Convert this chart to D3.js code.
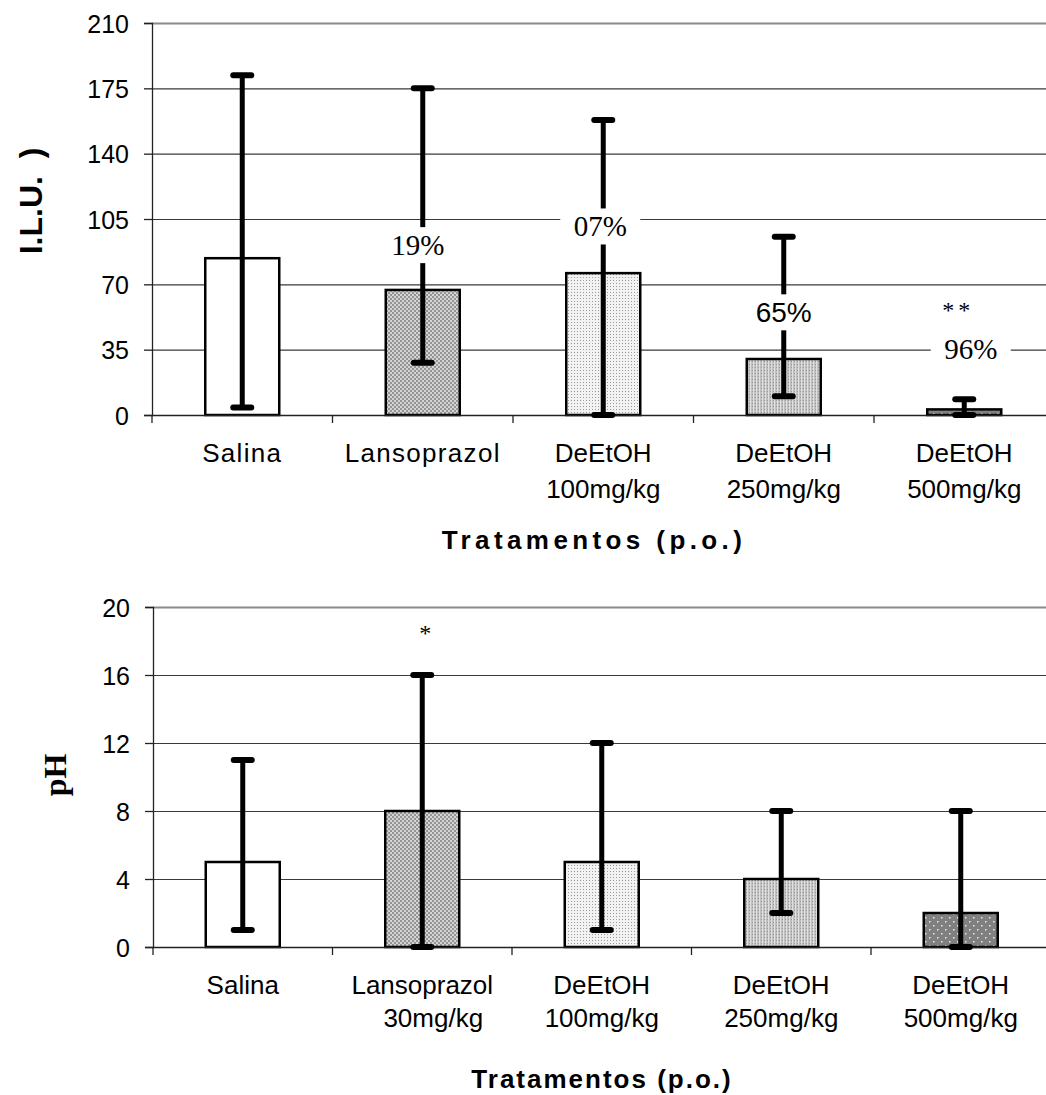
<!DOCTYPE html>
<html><head><meta charset="utf-8">
<script src="https://cdn.jsdelivr.net/npm/d3@7"></script>
<style>
html,body{margin:0;padding:0;background:#fff;overflow:hidden}
svg{display:block}
</style></head>
<body>
<svg id="chart" width="1046" height="1095"></svg>
<script>
// ---------- data ----------
const catsTop = [["Salina"],["Lansoprazol"],["DeEtOH","100mg/kg"],["DeEtOH","250mg/kg"],["DeEtOH","500mg/kg"]];
const catsBottom = [["Salina"],["Lansoprazol","30mg/kg"],["DeEtOH","100mg/kg"],["DeEtOH","250mg/kg"],["DeEtOH","500mg/kg"]];
const iluMean = [84, 67, 76, 30, 3];
const iluLow  = [4, 28, 0, 10, 0];
const iluHigh = [182, 175, 158, 95.5, 8.4];
const iluTicks = [0, 35, 70, 105, 140, 175, 210];
const iluNotes = ["", "19%", "07%", "65%", "96%"];
const iluStars = ["", "", "", "", "**"];
const phMean = [5, 8, 5, 4, 2];
const phLow  = [1, 0, 1, 2, 0];
const phHigh = [11, 16, 12, 8, 8];
const phTicks = [0, 4, 8, 12, 16, 20];
const phStars = ["", "*", "", "", ""];
const fills = ["#ffffff", "url(#pLanso)", "url(#p100)", "url(#p250)", "url(#p500)"];

const svg = d3.select("#chart");
const defs = svg.append("defs");
// patterns
(function(){
  let p = defs.append("pattern").attr("id","pLanso").attr("width",4).attr("height",4).attr("patternUnits","userSpaceOnUse");
  p.append("rect").attr("width",4).attr("height",4).attr("fill","#d4d4d4");
  p.append("rect").attr("x",0).attr("y",0).attr("width",2).attr("height",2).attr("fill","#949494");
  p.append("rect").attr("x",2).attr("y",2).attr("width",2).attr("height",2).attr("fill","#949494");
  p = defs.append("pattern").attr("id","p100").attr("width",3).attr("height",3).attr("patternUnits","userSpaceOnUse");
  p.append("rect").attr("width",3).attr("height",3).attr("fill","#f2f2f2");
  p.append("rect").attr("x",1).attr("y",1).attr("width",1).attr("height",1).attr("fill","#9a9a9a");
  p = defs.append("pattern").attr("id","p250").attr("width",3).attr("height",3).attr("patternUnits","userSpaceOnUse");
  p.append("rect").attr("width",3).attr("height",3).attr("fill","#c0c0c0");
  p.append("rect").attr("x",0).attr("y",0).attr("width",1).attr("height",3).attr("fill","#e0e0e0");
  p.append("rect").attr("x",2).attr("y",1).attr("width",1).attr("height",1).attr("fill","#959595");
  p = defs.append("pattern").attr("id","p500").attr("width",8).attr("height",8).attr("patternUnits","userSpaceOnUse");
  p.append("rect").attr("width",8).attr("height",8).attr("fill","#808080");
  p.append("rect").attr("x",1).attr("y",1).attr("width",1.5).attr("height",1.5).attr("fill","#e8e8e8");
  p.append("rect").attr("x",5).attr("y",5).attr("width",1.5).attr("height",1.5).attr("fill","#e8e8e8");
})();

const SANS = "Arial, 'Liberation Sans', sans-serif";
const SERIF = "'Times New Roman', 'Liberation Serif', serif";

function panel(o){
  const g = svg.append("g");
  const x = d3.scaleBand().domain(d3.range(5)).range([o.x0, o.x0 + 5*o.step]).paddingInner(0).paddingOuter(0);
  const y = d3.scaleLinear().domain([0, o.ticks[o.ticks.length-1]]).range([o.yb, o.yt]);
  // gridlines
  g.selectAll(".grid").data(o.ticks.slice(1)).join("line")
    .attr("x1", o.x0).attr("x2", 1046)
    .attr("y1", d=>y(d)+0.5).attr("y2", d=>y(d)+0.5)
    .attr("stroke", (d,i,n)=> i===n.length-1 ? "#8a8a8a" : "#3a3a3a")
    .attr("stroke-width", (d,i,n)=> i===n.length-1 ? 2 : 1.2);
  // y axis
  const ya = g.append("g").attr("transform",`translate(${o.x0},0)`)
    .call(d3.axisLeft(y).tickValues(o.ticks).tickSize(8).tickPadding(15).tickFormat(d3.format("d")));
  ya.select(".domain").attr("stroke","#222").attr("stroke-width",1.3);
  ya.selectAll(".tick line").attr("stroke","#222").attr("stroke-width",1.3);
  ya.selectAll("text").attr("font-family",SANS).attr("font-size",25).attr("fill","#000").attr("dy","0.36em");
  // bars
  const bw = 74;
  const cx = i => x(i) + x.bandwidth()/2;
  g.selectAll(".bar").data(o.mean).join("rect")
    .attr("x",(d,i)=>cx(i)-bw/2).attr("width",bw)
    .attr("y",d=>y(d)).attr("height",d=>y(0)-y(d))
    .attr("fill",(d,i)=>fills[i]).attr("stroke","#000").attr("stroke-width",2.5);
  // x axis
  const xa = g.append("g").attr("transform",`translate(0,${o.yb})`);
  xa.append("line").attr("x1",o.x0).attr("x2",1046).attr("y1",0.5).attr("y2",0.5).attr("stroke","#222").attr("stroke-width",1.5);
  xa.selectAll(".xt").data(d3.range(5)).join("line")
    .attr("x1",i=>x(i)).attr("x2",i=>x(i)).attr("y1",0).attr("y2",8).attr("stroke","#222").attr("stroke-width",1.3);
  // error bars
  const eb = g.append("g").attr("stroke","#000").attr("stroke-linecap","round");
  o.mean.forEach((m,i)=>{
    const c = cx(i);
    eb.append("line").attr("x1",c).attr("x2",c).attr("y1",y(o.low[i])).attr("y2",y(o.high[i])).attr("stroke-width",5).attr("stroke-linecap","butt");
    eb.append("line").attr("x1",c-9).attr("x2",c+9).attr("y1",y(o.high[i])).attr("y2",y(o.high[i])).attr("stroke-width",6);
    eb.append("line").attr("x1",c-9).attr("x2",c+9).attr("y1",y(o.low[i])).attr("y2",y(o.low[i])).attr("stroke-width",6);
  });
  // category labels
  const lab = g.append("g").attr("font-family",SANS).attr("fill","#000").attr("text-anchor","middle");
  o.cats.forEach((c,i)=>{
    c.forEach((t,j)=>{
      const t2 = lab.append("text").attr("x",cx(i) + (o.cats===catsBottom && i===1 && j===1 ? 11 : 0))
        .attr("y", o.lab1 + j*o.labGap).attr("font-size", 26).text(t);
      if (o.spaced) t2.attr("letter-spacing", c.length===1 ? 1.3 : 0);
    });
  });
  // axis title
  g.append("text").attr("x",o.titleX).attr("y",o.titleY).attr("text-anchor","middle")
    .attr("font-family",SANS).attr("font-weight","bold").attr("font-size",26)
    .attr("letter-spacing",o.titleSpacing).text("Tratamentos (p.o.)");
  return {g,x,y,cx};
}

// ---------- top panel ----------
const topP = panel({x0:152, step:180.5, yb:415, yt:23, ticks:iluTicks, mean:iluMean, low:iluLow, high:iluHigh,
  cats:catsTop, lab1:462, labGap:36, titleX:594, titleY:549, titleSpacing:4.4, spaced:true});
// percentage notes with white background
const notePos = [null, {dx:-5, v:91}, {dx:-3, v:101}, {dx:0, v:55}, {dx:6.5, v:35.5}];
iluNotes.forEach((t,i)=>{
  if(!t) return;
  const c = topP.cx(i) + notePos[i].dx;
  const yy = topP.y(notePos[i].v);
  const isSans = i===3;
  topP.g.append("rect").attr("x",c-40).attr("y",yy-18).attr("width",80).attr("height",36).attr("fill","#fff");
  topP.g.append("text").attr("x",c).attr("y",yy).attr("dy","0.34em").attr("text-anchor","middle")
    .attr("font-family",isSans?SANS:SERIF).attr("font-size",isSans?28:29).text(t);
});
iluStars.forEach((t,i)=>{
  if(!t) return;
  topP.g.append("text").attr("x",topP.cx(i)-6).attr("y",318).attr("text-anchor","middle")
    .attr("font-family",SERIF).attr("font-size",24).attr("letter-spacing",4).text(t);
});
// y label
svg.append("text").attr("transform","translate(42,201) rotate(-90)").attr("text-anchor","middle")
  .attr("font-family",SANS).attr("font-weight","bold").attr("font-size",32).attr("xml:space","preserve").text("I.L.U.  )");

// ---------- bottom panel ----------
const botP = panel({x0:153, step:179.5, yb:947, yt:607, ticks:phTicks, mean:phMean, low:phLow, high:phHigh,
  cats:catsBottom, lab1:994, labGap:33, titleX:602, titleY:1088, titleSpacing:2, spaced:false});
phStars.forEach((t,i)=>{
  if(!t) return;
  botP.g.append("text").attr("x",botP.cx(i)+3).attr("y",641).attr("text-anchor","middle")
    .attr("font-family",SERIF).attr("font-size",24).text(t);
});
svg.append("text").attr("transform","translate(66,775) rotate(-90)").attr("text-anchor","middle")
  .attr("font-family",SERIF).attr("font-weight","bold").attr("font-size",32).text("pH");
</script>
</body></html>
